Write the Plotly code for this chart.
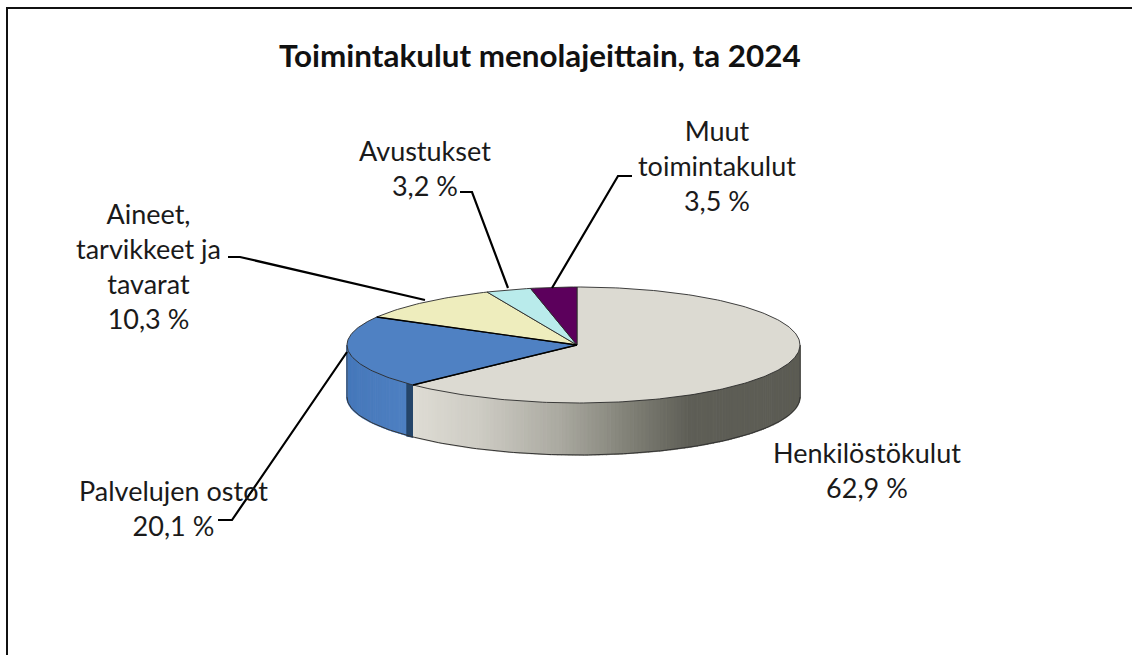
import math
import plotly.graph_objects as go

# --- data ---
categories = ["Henkilöstökulut", "Palvelujen ostot", "Aineet, tarvikkeet ja tavarat", "Avustukset", "Muut toimintakulut"]
shares = [62.9, 20.1, 10.3, 3.2, 3.5]
value_labels = ["62,9 %", "20,1 %", "10,3 %", "3,2 %", "3,5 %"]
display_labels = ["Henkilöstökulut<br>62,9 %", "Palvelujen ostot<br>20,1 %",
                  "Aineet,<br>tarvikkeet ja<br>tavarat<br>10,3 %", "Avustukset<br>3,2 %",
                  "Muut<br>toimintakulut<br>3,5 %"]
top_colors = ["#DCDAD2", "#4F81C3", "#EEEDBD", "#B9EBEB", "#5C005C"]
title_text = "<b>Toimintakulut menolajeittain, ta 2024</b>"

# --- layout of the drawing (pixels) ---
W, H = 1132, 655
CX, CY = 577, 345
RX_L, RX_R, RY, DEPTH = 230, 223, 58, 52
FONT = "Lato"
label_pos = [(867, 470), (173, 508), (148, 266), (425, 168), (717, 165)]
label_size = 27
elbows = [None, [(232, 520), (218, 520)], [(240, 257), (228, 257)],
          [(472, 192), (460, 192)], [(618, 176), (632, 176)]]
anchor_at = [None, (347, 352), (425, 300), (508, 288), (552, 288)]


def pt(deg, dy=0):
    s, c = math.sin(math.radians(deg)), math.cos(math.radians(deg))
    if s >= 0:
        return CX + RX_R * s, CY - RY * c + dy
    return CX - RX_L * abs(s) ** 1.05, CY - RY * c + dy


def arc(a, b, dy=0, step=1.0):
    n = max(2, int(abs(b - a) / step) + 1)
    return [pt(a + (b - a) * i / (n - 1), dy) for i in range(n)]


def mix(stops, x):
    for (x0, c0), (x1, c1) in zip(stops, stops[1:]):
        if x <= x1:
            f = max(0, (x - x0) / (x1 - x0))
            return "rgb(" + ",".join(str(round(p + (q - p) * f)) for p, q in zip(c0, c1)) + ")"
    return "rgb(" + ",".join(map(str, stops[-1][1])) + ")"


GREY = [(413, (222, 220, 212)), (480, (205, 203, 195)), (560, (170, 169, 160)),
        (630, (128, 128, 118)), (690, (94, 94, 86)), (800, (92, 92, 84))]
BLUE = [(347, (70, 120, 186)), (408, (78, 128, 194))]

fig = go.Figure()


def poly(points, color, line=None, width=0):
    fig.add_trace(go.Scatter(x=[p[0] for p in points], y=[p[1] for p in points], mode="lines",
                             fill="toself", fillcolor=color,
                             line=dict(color=line or color, width=width if line else 1.4),
                             hoverinfo="skip", showlegend=False))


def stroke(points, color="#000000", width=1.0):
    fig.add_trace(go.Scatter(x=[p[0] for p in points], y=[p[1] for p in points], mode="lines",
                             line=dict(color=color, width=width), hoverinfo="skip", showlegend=False))


# cumulative angles, clockwise from twelve o'clock
edges = [0]
for v in shares:
    edges.append(edges[-1] + v * 360 / sum(shares))

# front wall, drawn as narrow strips so the shading runs left to right
for i, stops in ((0, GREY), (1, BLUE)):
    a, b = max(edges[i], 90), min(edges[i + 1], 270)
    n = int((b - a) / 1.0)
    for k in range(n):
        a0, a1 = a + (b - a) * k / n, a + (b - a) * (k + 1) / n
        p0, p1 = pt(a0), pt(a1)
        poly([p0, p1, pt(a1, DEPTH), pt(a0, DEPTH)], mix(stops, (p0[0] + p1[0]) / 2))

# dark cut face between the first two slices
cut = pt(edges[1])
poly([cut, (cut[0] - 6, cut[1] - 1), (cut[0] - 6, cut[1] + DEPTH - 1), (cut[0], cut[1] + DEPTH)], "#254569")

# top faces
for i, c in enumerate(top_colors):
    poly([(CX, CY)] + arc(edges[i], edges[i + 1]) + [(CX, CY)], c, "#2A2A2A", 0.9)

# wall outlines
stroke(arc(90, 270, DEPTH), "#333333", 1.0)
stroke([pt(90), pt(90, DEPTH)], "#444444", 0.8)
stroke([pt(270), pt(270, DEPTH)], "#444444", 0.8)
# heavier edge under the blue slice
stroke([(CX, CY), pt(edges[1])], "#000000", 1.4)
stroke([(CX, CY), pt(edges[2])], "#000000", 1.4)

# leader lines
for anchor, elbow in zip(anchor_at, elbows):
    if elbow:
        stroke([anchor] + elbow, "#000000", 2.2)

annotations = [dict(x=540, y=55, text=title_text, showarrow=False, xanchor="center", yanchor="middle",
                    font=dict(family=FONT, size=31.4, color="#111111"))]
for (x, y), t in zip(label_pos, display_labels):
    annotations.append(dict(x=x, y=y, text=t, showarrow=False, xanchor="center", yanchor="middle", align="center",
                            font=dict(family=FONT, size=label_size, color="#1A1A1A")))

fig.update_layout(
    width=W, height=H, margin=dict(l=0, r=0, t=0, b=0),
    paper_bgcolor="white", plot_bgcolor="white", showlegend=False,
    xaxis=dict(range=[0, W], visible=False, fixedrange=True),
    yaxis=dict(range=[H, 0], visible=False, fixedrange=True),
    annotations=annotations,
    shapes=[dict(type="line", x0=7, x1=7, y0=8, y1=H + 5, line=dict(color="#111111", width=2)),
            dict(type="line", x0=6, x1=W + 5, y0=8, y1=8, line=dict(color="#111111", width=2))],
)
fig.write_html("out.html", config=dict(displayModeBar=False),
               post_script="document.body.style.margin='0';document.body.style.overflow='hidden';")
